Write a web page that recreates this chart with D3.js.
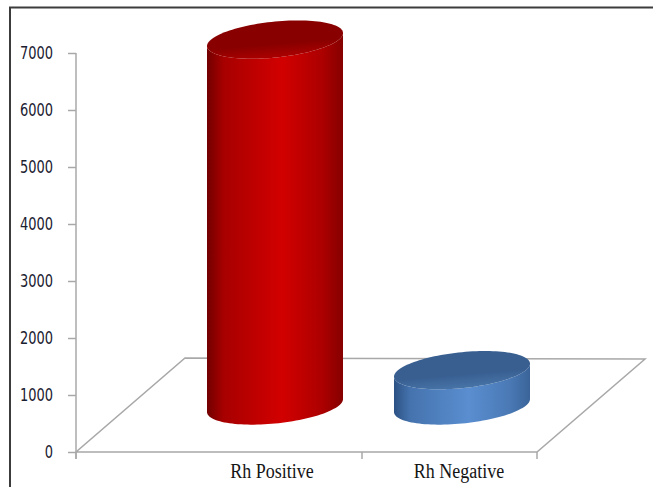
<!DOCTYPE html>
<html>
<head>
<meta charset="utf-8">
<script src="https://cdn.jsdelivr.net/npm/d3@7"></script>
<style>
  html, body { margin: 0; padding: 0; background: #fff; }
  svg { display: block; }
</style>
</head>
<body>
<svg id="chart" width="653" height="487"></svg>
<script>
// Blood group Rh factor counts
const categories = ["Rh Positive", "Rh Negative"];
const counts = [6420, 620];
const yTicks = [0, 1000, 2000, 3000, 4000, 5000, 6000, 7000];
const seriesColors = [
  { dark: "#720000", mid: "#d20000", edge: "#850000", top0: "#880000", top1: "#a80000" },
  { dark: "#2c5284", mid: "#5a8ed0", edge: "#3a6499", top0: "#395f91", top1: "#4672a6" }
];

const svg = d3.select("#chart");

// Value axis on the front-left edge of the floor
const y = d3.scaleLinear().domain([0, 7000]).range([452, 53]);
// Front edge of the floor: category boundaries
const xFront = d3.scaleLinear().domain([0, 1, 2]).range([76, 362, 537]);
// Cylinder centres at mid depth
const xMid = d3.scalePoint().domain(categories).range([275, 462]);

const depth = { dx: 108, dy: -93 };
const halfDepthY = depth.dy / 2;

// Outer frame (top and left edges)
svg.append("path")
  .attr("d", "M10,487 L10,7.5 L653,7.5")
  .attr("fill", "none")
  .attr("stroke", "#3c3c3c")
  .attr("stroke-width", 2);

// Floor outline
const floorPts = [
  [xFront(0), y(0)],
  [xFront(2), y(0)],
  [xFront(2) + depth.dx, y(0) + depth.dy],
  [xFront(0) + depth.dx + 1, y(0) + depth.dy - 1]
];
svg.append("path")
  .attr("d", d3.line()(floorPts) + "Z")
  .attr("fill", "none")
  .attr("stroke", "#a8a8a8")
  .attr("stroke-width", 1.5);

// Category ticks below the front edge
svg.append("g").selectAll("line")
  .data([0, 1, 2])
  .join("line")
  .attr("x1", d => xFront(d)).attr("x2", d => xFront(d))
  .attr("y1", y(0)).attr("y2", y(0) + 7)
  .attr("stroke", "#a8a8a8")
  .attr("stroke-width", 1.5);

// Value axis
const yAxis = svg.append("g")
  .attr("transform", `translate(${xFront(0)},0)`)
  .call(d3.axisLeft(y).tickValues(yTicks).tickFormat(d3.format("d"))
    .tickSize(8).tickSizeOuter(0).tickPadding(15));
yAxis.select(".domain")
  .attr("stroke", "#a8a8a8")
  .attr("stroke-width", 1.5)
  .attr("d", `M0,${y(7000)}V${y(0) + 7}`);
yAxis.selectAll(".tick line").attr("stroke", "#a8a8a8").attr("stroke-width", 1.5);
yAxis.selectAll(".tick text")
  .attr("fill", "#1a2030")
  .attr("font-family", "'DejaVu Sans', Tahoma, sans-serif")
  .attr("font-size", 13)
  .attr("dy", "0.3em")
  .attr("transform", "scale(1,1.3)");

// Gradients for cylinder walls and tops
const defs = svg.append("defs");
seriesColors.forEach((c, i) => {
  const side = defs.append("linearGradient").attr("id", "side" + i)
    .attr("x1", "0").attr("x2", "1").attr("y1", "0").attr("y2", "0");
  side.append("stop").attr("offset", "0%").attr("stop-color", c.dark);
  side.append("stop").attr("offset", "12%").attr("stop-color", d3.interpolateRgb(c.dark, c.mid)(0.55));
  side.append("stop").attr("offset", "55%").attr("stop-color", c.mid);
  side.append("stop").attr("offset", "85%").attr("stop-color", d3.interpolateRgb(c.mid, c.edge)(0.5));
  side.append("stop").attr("offset", "100%").attr("stop-color", c.edge);
  const top = defs.append("linearGradient").attr("id", "top" + i)
    .attr("x1", "0").attr("x2", "0.3").attr("y1", "0").attr("y2", "1");
  top.append("stop").attr("offset", "0%").attr("stop-color", c.top0);
  top.append("stop").attr("offset", "70%").attr("stop-color", c.top0);
  top.append("stop").attr("offset", "100%").attr("stop-color", c.top1);
});

// Cylinder geometry: sheared ellipse so the sides stay vertical
const rx = 68, ry = 18, shear = -6.5;
const ellPt = (cx, cy, t) => [cx + rx * Math.cos(t), cy + ry * Math.sin(t) + shear * Math.cos(t)];
const arcPts = (cx, cy, t0, t1, n = 60) =>
  d3.range(n + 1).map(k => ellPt(cx, cy, t0 + (t1 - t0) * k / n));

const line = d3.line();
const cyl = svg.append("g");
categories.forEach((cat, i) => {
  const cx = xMid(cat);
  const cyB = y(0) + halfDepthY;
  const cyT = y(counts[i]) + halfDepthY;
  // wall: left edge down, front of base, right edge up, front of top back to left
  const wall = [
    ellPt(cx, cyT, Math.PI),
    ...arcPts(cx, cyB, Math.PI, 0),
    ...arcPts(cx, cyT, 0, Math.PI)
  ];
  cyl.append("path")
    .attr("d", line(wall) + "Z")
    .attr("fill", `url(#side${i})`);
  cyl.append("path")
    .attr("d", line(arcPts(cx, cyT, 0, 2 * Math.PI, 120)) + "Z")
    .attr("fill", `url(#top${i})`);
});

// Category labels
svg.append("g").selectAll("text")
  .data(categories)
  .join("text")
  .attr("transform", d => `translate(${xMid(d) - 3},478) scale(1,1.2)`)
  .attr("text-anchor", "middle")
  .attr("font-family", "'Liberation Serif', 'Times New Roman', serif")
  .attr("font-size", 18)
  .attr("fill", "#151515")
  .text(d => d);
</script>
</body>
</html>
